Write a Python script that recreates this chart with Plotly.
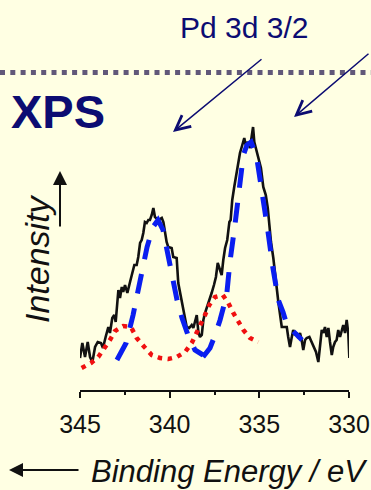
import plotly.graph_objects as go

# Pd 3d XPS spectrum: measured trace (binding energy in eV, intensity in arb. units)
be_meas = [345.00, 344.87, 344.72, 344.57, 344.44, 344.31, 344.16, 344.01, 343.83, 343.72,
           343.57, 343.42, 343.33, 343.20, 343.09, 343.01, 342.86, 342.77, 342.67, 342.59,
           342.49, 342.36, 342.21, 342.08, 341.97, 341.84, 341.75, 341.65, 341.56, 341.47,
           341.38, 341.28, 341.19, 341.10, 341.00, 340.91, 340.82, 340.63, 340.44, 340.35,
           340.26, 340.17, 340.08, 339.89, 339.80, 339.61, 339.52, 339.42, 339.33, 339.24,
           339.14, 339.05, 338.91, 338.77, 338.68, 338.59, 338.49, 338.40, 338.31, 338.21,
           338.12, 338.03, 337.93, 337.85, 337.75, 337.66, 337.53, 337.42, 337.32, 337.19,
           337.10, 337.01, 336.91, 336.79, 336.67, 336.60, 336.51, 336.40, 336.26, 336.17,
           336.08, 335.95, 335.84, 335.76, 335.65, 335.52, 335.43, 335.35, 335.28, 335.20,
           335.06, 334.91, 334.78, 334.64, 334.53, 334.46, 334.35, 334.22, 334.13, 334.03,
           333.94, 333.85, 333.75, 333.61, 333.47, 333.39, 333.29, 333.20, 333.11, 333.01,
           332.92, 332.83, 332.73, 332.64, 332.55, 332.45, 332.36, 332.21, 332.08, 331.99,
           331.84, 331.71, 331.62, 331.52, 331.43, 331.34, 331.24, 331.15, 331.06, 330.96,
           330.88, 330.78, 330.69, 330.60, 330.50, 330.41, 330.32, 330.22, 330.13, 330.04,
           329.98]
int_meas = [32, 47, 33, 48, 33, 28, 43, 48, 47, 42,
            53, 63, 57, 72, 75, 68, 100, 92, 103, 98,
            105, 97, 108, 117, 125, 125, 133, 147, 150, 157,
            168, 167, 170, 170, 175, 182, 173, 170, 172, 168,
            155, 148, 143, 142, 133, 132, 107, 97, 92, 83,
            70, 63, 62, 65, 62, 68, 75, 58, 53, 55,
            70, 77, 82, 88, 93, 97, 105, 113, 127, 120,
            115, 130, 142, 150, 168, 170, 190, 203, 217, 228,
            237, 245, 252, 245, 248, 242, 252, 263, 248, 242,
            232, 222, 203, 195, 182, 165, 148, 132, 115, 102,
            88, 75, 63, 63, 63, 53, 43, 52, 60, 55,
            57, 52, 57, 50, 40, 50, 52, 53, 48, 43,
            38, 28, 43, 60, 57, 63, 53, 62, 48, 35,
            43, 48, 50, 60, 53, 60, 65, 57, 70, 57,
            32]

# Fitted component at higher binding energy (blue dashed)
be_fit1 = [342.94, 342.43, 342.04, 341.65, 341.26, 340.93, 340.65, 340.37, 340.15, 339.93,
           339.59, 339.31, 338.98, 338.59, 338.14]
int_fit1 = [30, 47, 75, 108, 143, 163, 170, 160, 140, 122,
            90, 72, 55, 40, 35]

# Fitted component at lower binding energy (blue dashed)
be_fit2 = [338.14, 337.75, 337.47, 337.19, 336.82, 336.64, 336.36, 336.13, 335.89, 335.69,
           335.46, 335.15, 334.80, 334.53, 334.25, 333.94, 333.68, 333.46, 333.01, 332.62]
int_fit2 = [33, 42, 55, 70, 95, 128, 165, 201, 235, 245,
            248, 233, 195, 160, 123, 90, 78, 65, 57, 50]

# Minor component (red dotted)
be_minor = [344.91, 344.39, 343.98, 343.64, 343.33, 343.05, 342.59, 342.16, 341.84, 341.41,
            341.00, 340.54, 340.08, 339.61, 339.14, 338.77, 338.31, 338.03, 337.79, 337.47,
            337.04, 336.73, 336.45, 336.17, 335.89, 335.52, 335.06]
int_minor = [22, 27, 33, 41, 50, 59, 64, 63, 52, 43,
             35, 32, 31, 33, 38, 47, 63, 75, 85, 93,
             95, 87, 77, 68, 60, 52, 48]

tick_vals = [345, 340, 335, 330]
tick_text = ["345", "340", "335", "330"]

W, H = 371, 490
ML, MR, MT, MB = 80, 22, 120, 100
PW, PH = W - ML - MR, H - MT - MB

BG = "#ffffe3"
NAVY = "#0c0c72"
INK = "#111111"
FONT = "Arial, Liberation Sans, sans-serif"


def px(x):
    return (x - ML) / PW


def py(y):
    return (H - MB - y) / PH


def arrow(head, tail, color, style, size, width):
    # head/tail are page pixel positions; the tail is given as a pixel offset
    return dict(text="", x=px(head[0]), y=py(head[1]), xref="paper", yref="paper",
                ax=tail[0] - head[0], ay=tail[1] - head[1], axref="pixel", ayref="pixel",
                showarrow=True, arrowhead=style, arrowsize=size, arrowwidth=width,
                arrowcolor=color)


fig = go.Figure()
fig.add_trace(go.Scatter(x=be_meas, y=int_meas, mode="lines",
                         line=dict(color=INK, width=2.6), hoverinfo="skip"))
fig.add_trace(go.Scatter(x=be_fit1, y=int_fit1, mode="lines",
                         line=dict(color="#0a1ef0", width=5, dash="20px,15px"), hoverinfo="skip"))
fig.add_trace(go.Scatter(x=be_fit2, y=int_fit2, mode="lines",
                         line=dict(color="#0a1ef0", width=5, dash="20px,15px"), hoverinfo="skip"))
fig.add_trace(go.Scatter(x=be_minor, y=int_minor, mode="lines",
                         line=dict(color="#f01010", width=4.5, dash="4.5px,5.5px"), hoverinfo="skip"))

annotations = [
    dict(text="Pd 3d 3/2", x=px(244), y=py(28), xref="paper", yref="paper",
         showarrow=False, font=dict(family=FONT, size=30, color=NAVY),
         xanchor="center", yanchor="middle"),
    dict(text="<b>XPS</b>", x=px(9), y=py(112), xref="paper", yref="paper",
         showarrow=False, font=dict(family=FONT, size=47, color=NAVY),
         xanchor="left", yanchor="middle"),
    # pointers to the two Pd 3d peaks
    arrow((173, 132), (263, 58), NAVY, 5, 1.9, 1.5),
    arrow((294, 117), (370, 52.5), NAVY, 5, 1.9, 1.5),
    # axis captions
    dict(text="<i>Intensity</i>", x=px(37), y=py(259), xref="paper", yref="paper",
         showarrow=False, textangle=-90, font=dict(family=FONT, size=34, color=INK),
         xanchor="center", yanchor="middle"),
    arrow((60, 171), (60, 228), INK, 2, 1.4, 2),
    dict(text="<i>Binding Energy / eV</i>", x=px(370), y=py(471), xref="paper", yref="paper",
         showarrow=False, font=dict(family=FONT, size=31, color=INK),
         xanchor="right", yanchor="middle"),
    arrow((9, 470), (80, 470), INK, 2, 1.4, 2),
]

shapes = [
    dict(type="line", xref="paper", yref="paper", x0=px(0), x1=px(W), y0=py(72.5), y1=py(72.5),
         line=dict(color="#615879", width=5, dash="5px,5.3px")),
]

fig.update_layout(
    width=W, height=H,
    margin=dict(l=ML, r=MR, t=MT, b=MB, pad=0, autoexpand=False),
    paper_bgcolor=BG, plot_bgcolor=BG,
    showlegend=False,
    annotations=annotations,
    shapes=shapes,
    xaxis=dict(range=[345, 330], tickvals=tick_vals, ticktext=tick_text,
               showgrid=False, zeroline=False, showline=True, linecolor=INK,
               linewidth=2, ticks="outside", ticklen=6, tickwidth=2, tickcolor=INK,
               ticklabelstandoff=5,
               tickfont=dict(family=FONT, size=25, color=INK),
               minor=dict(tickvals=[342.5, 337.5, 332.5], ticks="outside", ticklen=3,
                          tickwidth=2, tickcolor=INK)),
    yaxis=dict(range=[0, 270], visible=False),
)

fig.write_html("out.html")
